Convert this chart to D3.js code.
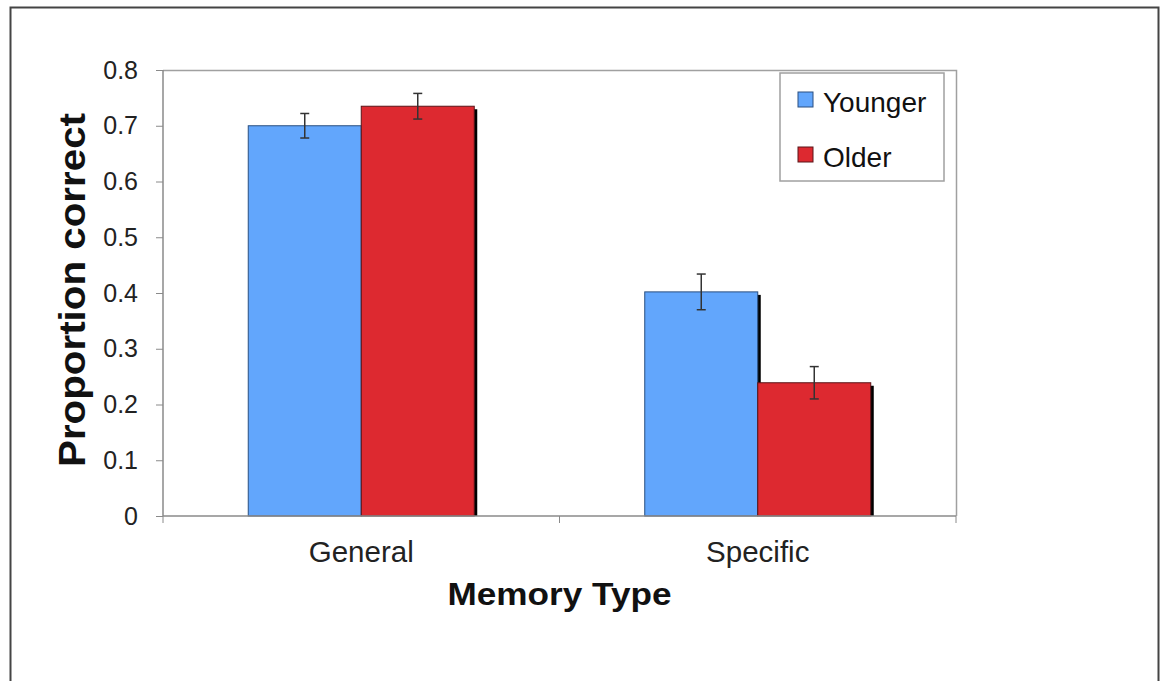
<!DOCTYPE html>
<html lang="en">
<head>
    <meta charset="UTF-8">
    <title>Memory Type</title>
    <script src="https://d3js.org/d3.v7.min.js"></script>
    <style>
        body { margin: 0; background: #fff; }
        svg { display: block; font-family: "Liberation Sans", Arial, sans-serif; }
        .axis path, .axis line { stroke: #8a8a8a; }
        .axis text { fill: #222; }
    </style>
</head>
<body>
    <svg id="chart"></svg>

    <script>
        // Chart data
        const categories = ["General", "Specific"];
        const groups = ["Younger", "Older"];
        const younger = [0.70, 0.402];
        const older = [0.735, 0.239];
        const youngerErr = [0.022, 0.032];
        const olderErr = [0.023, 0.029];
        const yTicks = [0, 0.1, 0.2, 0.3, 0.4, 0.5, 0.6, 0.7, 0.8];
        const colors = ["#62a6fc", "#dd2930"];
        const strokes = ["#2a4f80", "#5a1418"];

        const width = 1160, height = 681;
        const margin = {top: 70, right: 204, bottom: 165, left: 163};
        const innerW = width - margin.left - margin.right;
        const innerH = height - margin.top - margin.bottom;

        const svg = d3.select("#chart")
            .attr("width", width)
            .attr("height", height);

        // Outer frame
        svg.append("path")
            .attr("d", `M10.5,${height} V7.5 H1158.5 V${height}`)
            .attr("fill", "none")
            .attr("stroke", "#444")
            .attr("stroke-width", 2);

        const g = svg.append("g")
            .attr("transform", `translate(${margin.left},${margin.top})`);

        const x0 = d3.scaleBand().domain(categories).range([0, innerW]);
        const x1 = d3.scaleBand().domain(groups)
            .range([0, x0.bandwidth() * 0.57])
            .paddingInner(0);
        const y = d3.scaleLinear().domain([0, 0.8]).range([innerH, 0]);

        // Plot area border (top and right)
        g.append("path")
            .attr("d", `M0,0.5 H${innerW + 0.5} V${innerH}`)
            .attr("fill", "none")
            .attr("stroke", "#a0a0a0")
            .attr("stroke-width", 1.5);

        const rows = categories.map((c, i) => ({
            cat: c,
            vals: [
                {group: "Younger", v: younger[i], e: youngerErr[i], k: 0},
                {group: "Older", v: older[i], e: olderErr[i], k: 1}
            ]
        }));

        const offset = (x0.bandwidth() - x1.range()[1]) / 2;

        const cat = g.selectAll(".cat")
            .data(rows)
            .enter().append("g")
            .attr("class", "cat")
            .attr("transform", d => `translate(${x0(d.cat) + offset},0)`);

        // Shadows
        cat.selectAll(".shadow")
            .data(d => d.vals)
            .enter().append("rect")
            .attr("x", d => x1(d.group) + 3)
            .attr("y", d => y(d.v) + 3)
            .attr("width", x1.bandwidth())
            .attr("height", d => innerH - y(d.v) - 3)
            .attr("fill", "#000");

        // Bars
        cat.selectAll(".bar")
            .data(d => d.vals)
            .enter().append("rect")
            .attr("class", "bar")
            .attr("x", d => x1(d.group))
            .attr("y", d => y(d.v))
            .attr("width", x1.bandwidth())
            .attr("height", d => innerH - y(d.v))
            .attr("fill", d => colors[d.k])
            .attr("stroke", d => strokes[d.k])
            .attr("stroke-width", 1);

        // Error bars
        const err = cat.selectAll(".err")
            .data(d => d.vals)
            .enter().append("g")
            .attr("stroke", "#333")
            .attr("stroke-width", 1.5);
        err.append("line")
            .attr("x1", d => x1(d.group) + x1.bandwidth() / 2)
            .attr("x2", d => x1(d.group) + x1.bandwidth() / 2)
            .attr("y1", d => y(d.v + d.e))
            .attr("y2", d => y(d.v - d.e));
        err.append("line")
            .attr("x1", d => x1(d.group) + x1.bandwidth() / 2 - 4.5)
            .attr("x2", d => x1(d.group) + x1.bandwidth() / 2 + 4.5)
            .attr("y1", d => y(d.v + d.e))
            .attr("y2", d => y(d.v + d.e));
        err.append("line")
            .attr("x1", d => x1(d.group) + x1.bandwidth() / 2 - 4.5)
            .attr("x2", d => x1(d.group) + x1.bandwidth() / 2 + 4.5)
            .attr("y1", d => y(d.v - d.e))
            .attr("y2", d => y(d.v - d.e));

        // Y axis
        const yAxis = g.append("g")
            .attr("class", "axis")
            .call(d3.axisLeft(y).tickValues(yTicks).tickSize(7).tickPadding(18)
                .tickFormat(d => d === 0 ? "0" : d3.format(".1f")(d)));
        yAxis.attr("font-size", 25).attr("font-family", null);
        yAxis.select(".domain").attr("d", `M0,0 V${innerH}`).attr("stroke-width", 1.5);

        // X axis with ticks at category boundaries
        const xAxis = g.append("g")
            .attr("class", "axis")
            .attr("transform", `translate(0,${innerH})`);
        xAxis.append("line")
            .attr("x1", 0).attr("x2", innerW)
            .attr("stroke-width", 1.5);
        xAxis.selectAll(".bt")
            .data([0, 1, 2])
            .enter().append("line")
            .attr("x1", d => d * x0.bandwidth())
            .attr("x2", d => d * x0.bandwidth())
            .attr("y1", 0).attr("y2", 7);
        xAxis.selectAll(".lbl")
            .data(categories)
            .enter().append("text")
            .attr("x", d => x0(d) + x0.bandwidth() / 2)
            .attr("y", 46)
            .attr("text-anchor", "middle")
            .attr("font-size", 29.5)
            .text(d => d);

        // Axis titles
        g.append("text")
            .attr("x", innerW / 2)
            .attr("y", innerH + 89)
            .attr("text-anchor", "middle")
            .attr("font-size", 31)
            .attr("font-weight", "bold")
            .attr("fill", "#111")
            .attr("textLength", 224)
            .attr("lengthAdjust", "spacingAndGlyphs")
            .text("Memory Type");

        g.append("text")
            .attr("transform", `translate(-78,${220}) rotate(-90)`)
            .attr("text-anchor", "middle")
            .attr("font-size", 37)
            .attr("font-weight", "bold")
            .attr("fill", "#111")
            .attr("textLength", 354)
            .attr("lengthAdjust", "spacingAndGlyphs")
            .text("Proportion correct");

        // Legend
        const legend = svg.append("g").attr("transform", "translate(780,73)");
        legend.append("rect")
            .attr("width", 164).attr("height", 108)
            .attr("fill", "#fff")
            .attr("stroke", "#a0a0a0")
            .attr("stroke-width", 1.5);
        const item = legend.selectAll(".item")
            .data(groups)
            .enter().append("g")
            .attr("transform", (d, i) => `translate(18,${19 + i * 55})`);
        item.append("rect")
            .attr("width", 15).attr("height", 15)
            .attr("fill", (d, i) => colors[i])
            .attr("stroke", (d, i) => strokes[i]);
        item.append("text")
            .attr("x", 25)
            .attr("y", 20)
            .attr("font-size", 28)
            .attr("fill", "#111")
            .text(d => d);
    </script>
</body>
</html>
